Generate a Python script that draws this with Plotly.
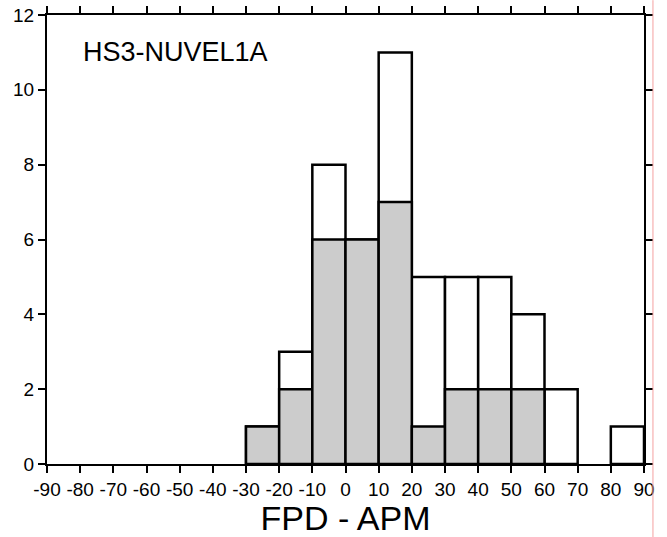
import plotly.graph_objects as go

bin_centers = [-25, -15, -5, 5, 15, 25, 35, 45, 55, 65, 85]
total_counts = [1, 3, 8, 6, 11, 5, 5, 5, 4, 2, 1]
grey_counts = [1, 2, 6, 6, 7, 1, 2, 2, 2, 0, 0]
x_ticks = list(range(-90, 91, 10))
y_ticks = list(range(0, 13, 2))

fig = go.Figure()
fig.add_trace(go.Bar(x=bin_centers, y=total_counts, width=10,
                     marker=dict(color="white", line=dict(color="black", width=2.5)),
                     showlegend=False))
fig.add_trace(go.Bar(x=bin_centers, y=[v if v else None for v in grey_counts], width=10,
                     marker=dict(color="#cccccc", line=dict(color="black", width=2.5)),
                     showlegend=False))

fig.update_layout(
    width=667, height=537,
    barmode="overlay",
    plot_bgcolor="white", paper_bgcolor="white",
    margin=dict(l=47, r=23, t=15, b=73),
    font=dict(family="Liberation Sans, Arial, sans-serif", color="black"),
    xaxis=dict(range=[-90, 90], tickmode="array", tickvals=x_ticks,
               ticktext=[str(v) for v in x_ticks], automargin=False,
               ticks="outside", ticklen=7, tickwidth=2, tickcolor="black",
               showline=True, linewidth=2, linecolor="black", mirror="ticks",
               showgrid=False, zeroline=False, tickfont=dict(size=19),
               title=dict(text="FPD - APM", font=dict(size=34), standoff=10)),
    yaxis=dict(range=[0, 12], tickmode="array", tickvals=y_ticks, automargin=False,
               ticks="outside", ticklen=7, tickwidth=2, tickcolor="black",
               showline=True, linewidth=2, linecolor="black", mirror="ticks",
               showgrid=False, zeroline=False, tickfont=dict(size=19)),
    annotations=[dict(text="HS3-NUVEL1A", x=0.057, y=0.9165, xref="paper", yref="paper",
                      xanchor="left", yanchor="middle", showarrow=False,
                      font=dict(size=27, color="black"))],
    shapes=[dict(type="line", xref="paper", yref="paper", x0=1.015, x1=1.015,
                 y0=-0.163, y1=1.033, line=dict(color="#f4a0a0", width=1))],
)

fig.write_html("out.html", config={"displayModeBar": False},
               post_script="document.body.style.margin='0';document.body.style.overflow='hidden';")
